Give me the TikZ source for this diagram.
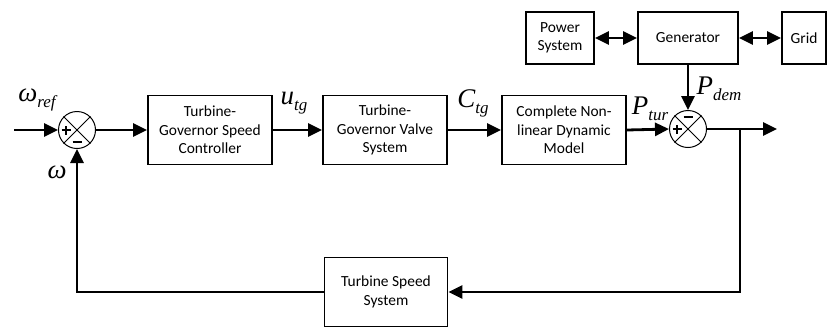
\documentclass[tikz,border=0pt]{standalone}
\usepackage{fontspec}
\setmainfont{Carlito}
\newfontfamily\tms{Liberation Serif}
\usetikzlibrary{arrows.meta}
\newcommand{\mvar}[2]{{\fontsize{27}{27}\tms\itshape #1\raisebox{-6bp}{\fontsize{17}{17}\selectfont #2}}}
\begin{document}
\begin{tikzpicture}[x=1bp,y=-1bp,
  blk/.style={draw,line width=1.8bp,minimum width=124bp,minimum height=69bp,align=center,inner sep=0pt,font=\fontsize{15.5}{18.5}\selectfont},
  sblk/.style={draw,line width=1.8bp,minimum height=52bp,align=center,inner sep=0pt,font=\fontsize{15.5}{18.5}\selectfont},
  sumc/.style={draw,line width=1bp,circle,minimum size=37bp,inner sep=0pt,fill=white},
  conn/.style={line width=2.8bp},
  arr/.style={conn,-{Triangle[length=14bp,width=13bp]}},
  darr/.style={conn,{Triangle[length=14bp,width=13bp]}-{Triangle[length=14bp,width=13bp]}},
  sgnl/.style={line width=2.6bp}]
\useasboundingbox (0,0) rectangle (827,329);
% blocks
\node[blk] (c1) at (210,130) {Turbine-\\Governor Speed\\Controller};
\node[blk] (c2) at (385,130) {Turbine-\\Governor Valve\\System};
\node[blk] (c3) at (564,130) {Complete Non-\\linear Dynamic\\Model};
\node[blk,minimum width=123bp] (fb) at (386,292) {Turbine Speed\\System};
\node[sblk,minimum width=68bp] (ps) at (560,38) {Power\\System};
\node[sblk,minimum width=100bp] (gen) at (688,38) {Generator};
\node[sblk,minimum width=44bp] (grid) at (804,38) {Grid};
% summing junctions
\node[sumc] (s1) at (77,130) {};
\draw[line width=1bp] (s1.north west) -- (s1.south east) (s1.north east) -- (s1.south west);
\draw[sgnl] ([xshift=3.5bp]s1.west) -- ++(9bp,0) ([xshift=8bp,yshift=-4.5bp]s1.west) -- ++(0,9bp);
\draw[sgnl] ([xshift=-4.5bp,yshift=7bp]s1.south) -- ++(9bp,0);
\node[sumc] (s2) at (688,129) {};
\draw[line width=1bp] (s2.north west) -- (s2.south east) (s2.north east) -- (s2.south west);
\draw[sgnl] ([xshift=3.5bp]s2.west) -- ++(9bp,0) ([xshift=8bp,yshift=-4.5bp]s2.west) -- ++(0,9bp);
\draw[sgnl] ([xshift=-4.5bp,yshift=-7bp]s2.north) -- ++(9bp,0);
% coordinates
\coordinate (in) at (14,130);
\coordinate (out) at (777,129);
\coordinate (br) at (740,129);
\coordinate (brd) at (740,292);
\coordinate (fl) at (77,292);
% connectors
\draw[arr] (in) -- (s1.west);
\draw[arr] (s1.east) -- (c1.west);
\draw[arr] (c1.east) -- (c2.west);
\draw[arr] (c2.east) -- (c3.west);
\draw[arr] (c3.east) -- (s2.west);
\draw[arr] (s2.east) -- (out);
\draw[arr] (gen.south) -- (s2.north);
\draw[arr] (br) -- (brd) -- (fb.east);
\draw[arr] (fb.west) -- (fl) -- (s1.south);
\draw[darr] (ps.east) -- (gen.west);
\draw[darr] (gen.east) -- (grid.west);
% labels
\node (lwr) at (37,100) {\mvar{ω}{ref}};
\node (lw) at (57,175) {\mvar{ω}{}};
\node (lu) at (294,103) {\mvar{u}{tg}};
\node (lc) at (473,103) {\mvar{C}{tg}};
\node (lpt) at (650,109) {\mvar{P}{tur}};
\node (lpd) at (719,89) {\mvar{P}{dem}};
\end{tikzpicture}
\end{document}
